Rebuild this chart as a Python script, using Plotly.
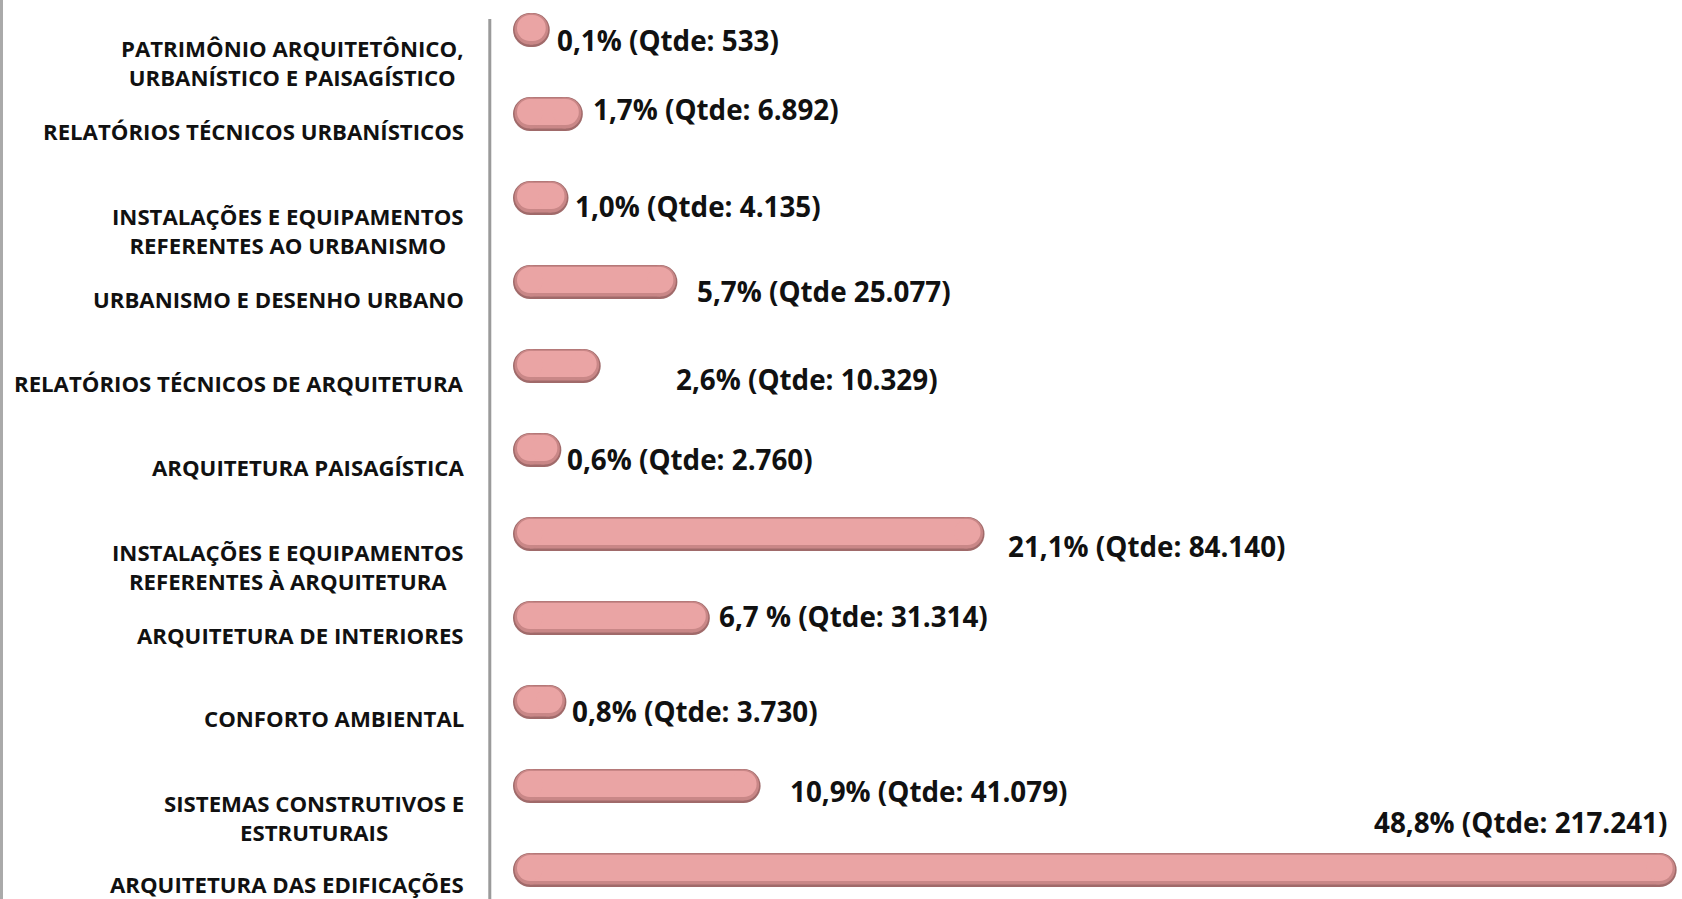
import plotly.graph_objects as go

# ---------------- data ----------------
categories = [
    "PATRIMÔNIO ARQUITETÔNICO,<br>URBANÍSTICO E PAISAGÍSTICO",
    "RELATÓRIOS TÉCNICOS URBANÍSTICOS",
    "INSTALAÇÕES E EQUIPAMENTOS<br>REFERENTES AO URBANISMO",
    "URBANISMO E DESENHO URBANO",
    "RELATÓRIOS TÉCNICOS DE ARQUITETURA",
    "ARQUITETURA PAISAGÍSTICA",
    "INSTALAÇÕES E EQUIPAMENTOS<br>REFERENTES À ARQUITETURA",
    "ARQUITETURA DE INTERIORES",
    "CONFORTO AMBIENTAL",
    "SISTEMAS CONSTRUTIVOS E<br>ESTRUTURAIS",
    "ARQUITETURA DAS EDIFICAÇÕES",
]
quantities = [533, 6892, 4135, 25077, 10329, 2760, 84140, 31314, 3730, 41079, 217241]
value_labels = [
    "0,1% (Qtde: 533)",
    "1,7% (Qtde: 6.892)",
    "1,0% (Qtde: 4.135)",
    "5,7% (Qtde 25.077)",
    "2,6% (Qtde: 10.329)",
    "0,6% (Qtde: 2.760)",
    "21,1% (Qtde: 84.140)",
    "6,7 % (Qtde: 31.314)",
    "0,8% (Qtde: 3.730)",
    "10,9% (Qtde: 41.079)",
    "48,8% (Qtde: 217.241)",
]

# ---------------- styling / label placement (pixels) ----------------
label_xshift = [22, 25, 21, 35, 90, 21, 38, 24, 21, 44, 9]
label_yshift = [-10, 5, -8, -9, -13, -9, -12, 2, -9, -5, 48]
label_xanchor = ["left"] * 10 + ["right"]
cat_yshift = [-33, -17, -33, -17, -17, -17, -33, -17, -16, -32, -14]

W, H = 1682, 899
L_MARGIN = 488
ZERO_PX = 530          # pixel of x = 0 (centre of the left cap)
PX_PER_UNIT = 0.0052
SLOT = 84.0
TOP_CENTER = 30.0

BAR_FILL = "#EAA4A4"
BAR_EDGE = "#A06A6A"
BAR_MID = "#C98787"
FONT = "Open Sans"
OUTER = 34
MID = 31
INNER = 26
LIFT = 2.0 / SLOT       # inner layers drawn slightly higher -> darker lower rim

def capsule(dy):
    xs, ys = [], []
    for i, q in enumerate(quantities):
        xs += [0, q, None]
        ys += [i - dy, i - dy, None]
    return xs, ys

fig = go.Figure()
for width, color, dy in [(OUTER, BAR_EDGE, 0.0), (MID, BAR_MID, LIFT * 0.5), (INNER, BAR_FILL, LIFT)]:
    xs, ys = capsule(dy)
    fig.add_trace(go.Scatter(x=xs, y=ys, mode="lines+markers",
                             line=dict(color=color, width=width),
                             marker=dict(symbol="circle", size=width, color=color, line=dict(width=0)),
                             hoverinfo="skip", showlegend=False))

annotations = []
for i, (cat, q, lab) in enumerate(zip(categories, quantities, value_labels)):
    annotations.append(dict(
        xref="paper", yref="y", x=0, y=i, xshift=-22, yshift=cat_yshift[i],
        xanchor="right", yanchor="middle", align="center",
        text="<b>" + cat + "</b>", showarrow=False,
        font=dict(family=FONT, size=22.2, color="#111111"),
    ))
    annotations.append(dict(
        xref="x", yref="y", x=q, y=i,
        xshift=label_xshift[i], yshift=label_yshift[i],
        xanchor=label_xanchor[i], yanchor="middle",
        text="<b>" + lab + "</b>", showarrow=False,
        font=dict(family=FONT, size=27.8, color="#111111"),
    ))

xmin = -(ZERO_PX - L_MARGIN) / PX_PER_UNIT
xmax = (W - ZERO_PX) / PX_PER_UNIT
ymin = -TOP_CENTER / SLOT
ymax = (H - TOP_CENTER) / SLOT

left_x = -(L_MARGIN - 1.5) / (W - L_MARGIN)
shapes = [
    dict(type="line", xref="paper", yref="paper", x0=0.0015, x1=0.0015,
         y0=0, y1=1 - 19 / H, line=dict(color="#9A9A9A", width=3)),
    dict(type="line", xref="paper", yref="paper", x0=left_x, x1=left_x,
         y0=0, y1=1, line=dict(color="#AAAAAA", width=3)),
]

fig.update_layout(
    width=W, height=H,
    margin=dict(l=L_MARGIN, r=0, t=0, b=0),
    paper_bgcolor="white", plot_bgcolor="white",
    xaxis=dict(range=[xmin, xmax], visible=False, fixedrange=True),
    yaxis=dict(range=[ymax, ymin], visible=False, fixedrange=True),
    annotations=annotations,
    shapes=shapes,
    font=dict(family=FONT),
    hovermode=False,
)

fig.write_html("out.html", config={"displayModeBar": False},
               post_script="document.body.style.margin='0';document.body.style.overflow='hidden';")
